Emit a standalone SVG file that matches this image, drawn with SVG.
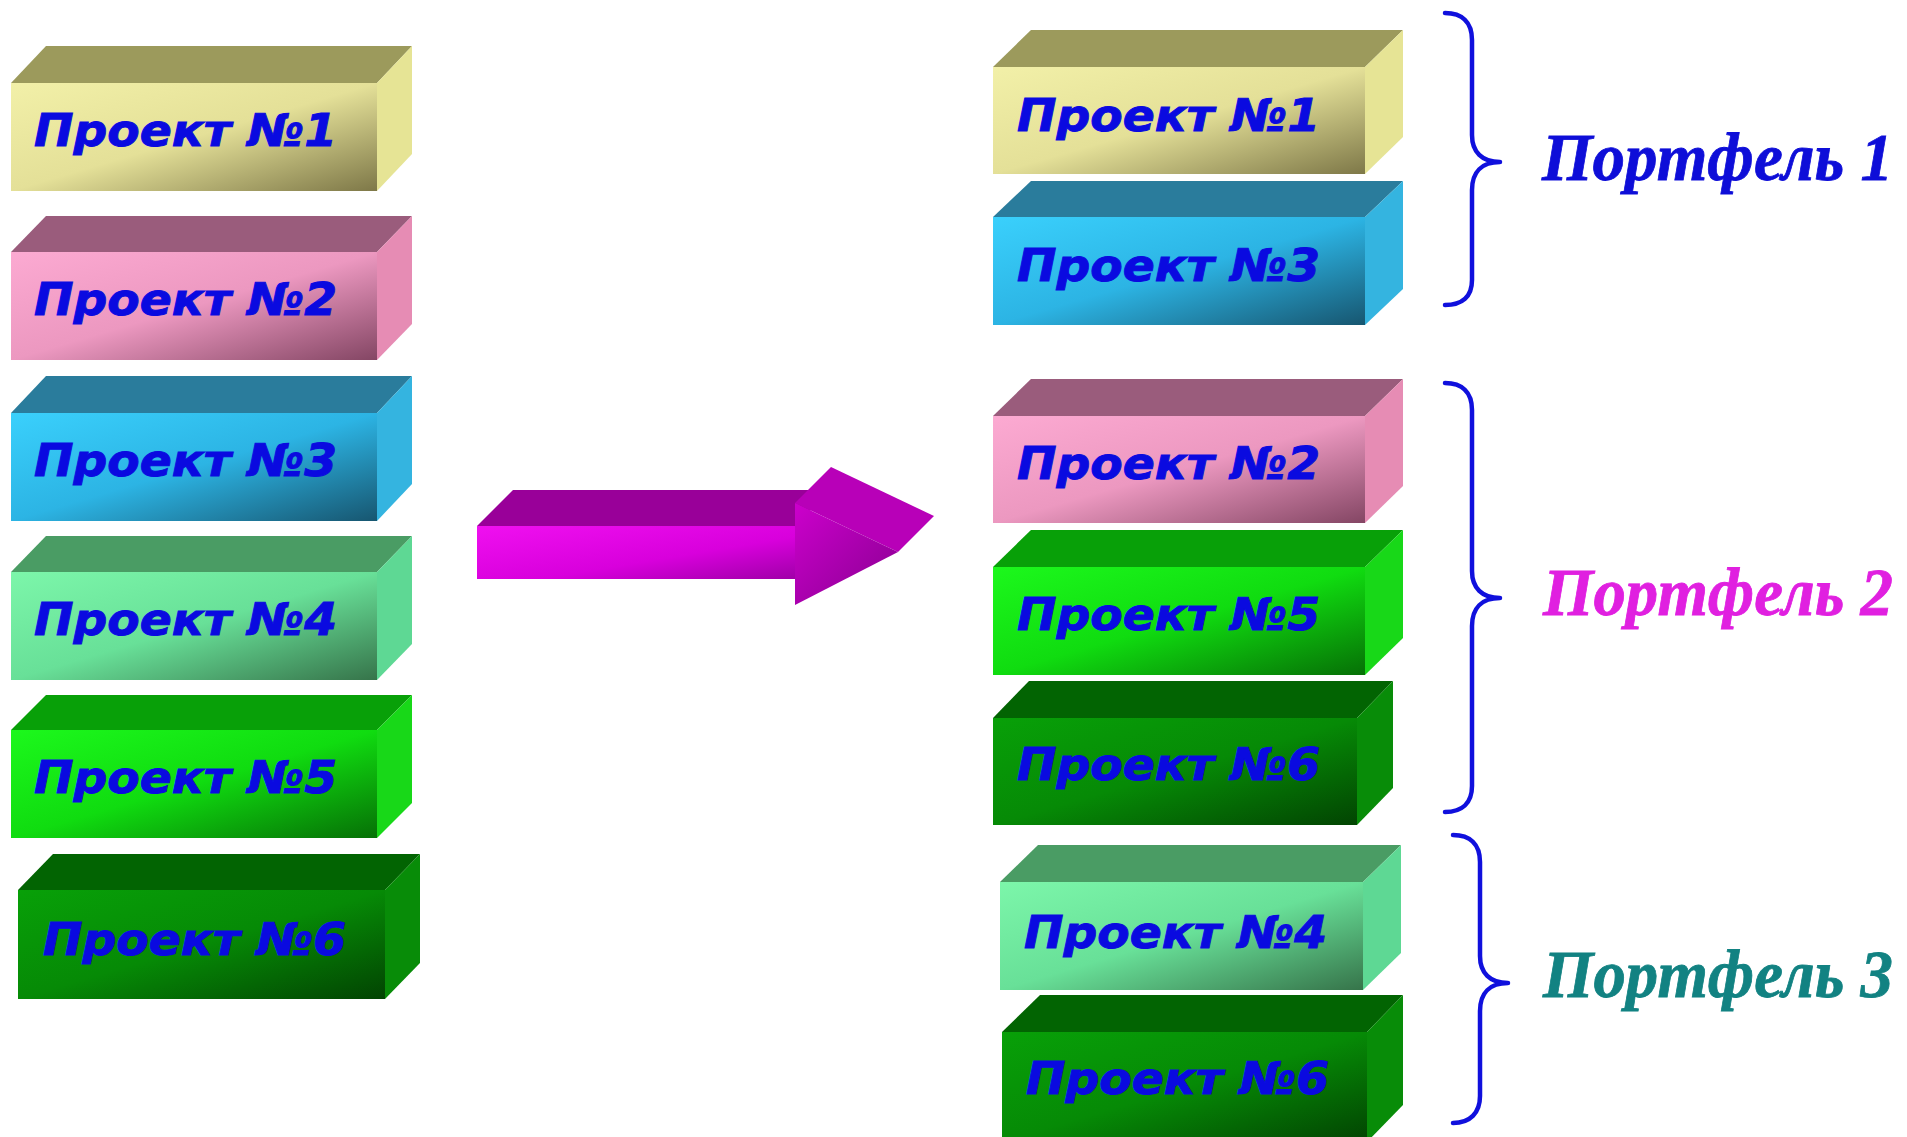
<svg xmlns="http://www.w3.org/2000/svg" width="1907" height="1137" viewBox="0 0 1907 1137">
<defs>
<linearGradient id="g1" x1="0" y1="0" x2="1" y2="1"><stop offset="0" stop-color="#f2f0a8"/><stop offset="0.5" stop-color="#e4e098"/><stop offset="1" stop-color="#7e7848"/></linearGradient>
<linearGradient id="g2" x1="0" y1="0" x2="1" y2="1"><stop offset="0" stop-color="#fcaad2"/><stop offset="0.5" stop-color="#ec98c0"/><stop offset="1" stop-color="#844664"/></linearGradient>
<linearGradient id="g3" x1="0" y1="0" x2="1" y2="1"><stop offset="0" stop-color="#3ad0fc"/><stop offset="0.5" stop-color="#2cb4e4"/><stop offset="1" stop-color="#175670"/></linearGradient>
<linearGradient id="g4" x1="0" y1="0" x2="1" y2="1"><stop offset="0" stop-color="#7cf6aa"/><stop offset="0.5" stop-color="#68e098"/><stop offset="1" stop-color="#36744a"/></linearGradient>
<linearGradient id="g5" x1="0" y1="0" x2="1" y2="1"><stop offset="0" stop-color="#1cf81c"/><stop offset="0.5" stop-color="#10dc10"/><stop offset="1" stop-color="#067006"/></linearGradient>
<linearGradient id="g6" x1="0" y1="0" x2="1" y2="1"><stop offset="0" stop-color="#08a008"/><stop offset="0.5" stop-color="#068a06"/><stop offset="1" stop-color="#024402"/></linearGradient>
<linearGradient id="ga" x1="0" y1="0" x2="1" y2="1"><stop offset="0" stop-color="#f010f0"/><stop offset="0.6" stop-color="#d800dc"/><stop offset="1" stop-color="#a000a8"/></linearGradient>
<linearGradient id="gh" x1="0" y1="0" x2="1" y2="1"><stop offset="0" stop-color="#cc00cc"/><stop offset="1" stop-color="#880090"/></linearGradient>
</defs>
<style>
.t{font-family:"DejaVu Sans","Verdana",sans-serif;font-weight:bold;font-style:italic;font-size:45px;fill:#0a0ae0;stroke:#0a0ae0;stroke-width:1}
.pf{font-family:"Liberation Serif","Times New Roman",serif;font-weight:bold;font-style:italic;font-size:67px;stroke-width:0.8}
.br{fill:none;stroke:#1010dd;stroke-width:4.5;stroke-linecap:round;stroke-linejoin:round}
.t1{fill:#9c9a5c}.r1{fill:#e6e495}
.t2{fill:#9a5c7c}.r2{fill:#e68cb4}
.t3{fill:#2a7c9c}.r3{fill:#34b4e0}
.t4{fill:#4a9c64}.r4{fill:#5ed894}
.t5{fill:#08a008}.r5{fill:#18d818}
.t6{fill:#026402}.r6{fill:#088c08}
</style>
<rect width="1907" height="1137" fill="#ffffff"/>

<!-- Left column -->
<g id="L1">
<polygon class="t1" points="11,83 46,46 412,46 377,83"/>
<polygon class="r1" points="377,83 412,46 412,154 377,191"/>
<rect x="11" y="83" width="366" height="108" fill="url(#g1)"/>
<text class="t" x="34" y="146" textLength="303" lengthAdjust="spacingAndGlyphs">Проект №1</text>
</g>
<g id="L2">
<polygon class="t2" points="11,252 46,216 412,216 377,252"/>
<polygon class="r2" points="377,252 412,216 412,324 377,360"/>
<rect x="11" y="252" width="366" height="108" fill="url(#g2)"/>
<text class="t" x="34" y="315" textLength="303" lengthAdjust="spacingAndGlyphs">Проект №2</text>
</g>
<g id="L3">
<polygon class="t3" points="11,413 46,376 412,376 377,413"/>
<polygon class="r3" points="377,413 412,376 412,484 377,521"/>
<rect x="11" y="413" width="366" height="108" fill="url(#g3)"/>
<text class="t" x="34" y="476" textLength="303" lengthAdjust="spacingAndGlyphs">Проект №3</text>
</g>
<g id="L4">
<polygon class="t4" points="11,572 46,536 412,536 377,572"/>
<polygon class="r4" points="377,572 412,536 412,644 377,680"/>
<rect x="11" y="572" width="366" height="108" fill="url(#g4)"/>
<text class="t" x="34" y="635" textLength="303" lengthAdjust="spacingAndGlyphs">Проект №4</text>
</g>
<g id="L5">
<polygon class="t5" points="11,730 46,695 412,695 377,730"/>
<polygon class="r5" points="377,730 412,695 412,803 377,838"/>
<rect x="11" y="730" width="366" height="108" fill="url(#g5)"/>
<text class="t" x="34" y="793" textLength="303" lengthAdjust="spacingAndGlyphs">Проект №5</text>
</g>
<g id="L6">
<polygon class="t6" points="18,890 53,854 420,854 385,890"/>
<polygon class="r6" points="385,890 420,854 420,963 385,999"/>
<rect x="18" y="890" width="367" height="109" fill="url(#g6)"/>
<text class="t" x="43" y="955" textLength="303" lengthAdjust="spacingAndGlyphs">Проект №6</text>
</g>

<!-- Arrow -->
<g id="connectors">
<g id="arrow">
<polygon fill="#990099" points="477,526 513,490 831,490 795,526"/>
<polygon fill="#b800b8" points="795,503 831,467 934,516 898,552"/>
<rect x="477" y="526" width="318" height="53" fill="url(#ga)"/>
<polygon fill="url(#gh)" points="795,503 898,552 795,605"/>
</g>
</g>

<!-- Right column -->
<g id="R1">
<polygon class="t1" points="993,67 1031,30 1403,30 1365,67"/>
<polygon class="r1" points="1365,67 1403,30 1403,137 1365,174"/>
<rect x="993" y="67" width="372" height="107" fill="url(#g1)"/>
<text class="t" x="1017" y="131" textLength="303" lengthAdjust="spacingAndGlyphs">Проект №1</text>
</g>
<g id="R3">
<polygon class="t3" points="993,217 1031,181 1403,181 1365,217"/>
<polygon class="r3" points="1365,217 1403,181 1403,289 1365,325"/>
<rect x="993" y="217" width="372" height="108" fill="url(#g3)"/>
<text class="t" x="1017" y="281" textLength="303" lengthAdjust="spacingAndGlyphs">Проект №3</text>
</g>
<g id="R2">
<polygon class="t2" points="993,416 1031,379 1403,379 1365,416"/>
<polygon class="r2" points="1365,416 1403,379 1403,486 1365,523"/>
<rect x="993" y="416" width="372" height="107" fill="url(#g2)"/>
<text class="t" x="1017" y="479" textLength="303" lengthAdjust="spacingAndGlyphs">Проект №2</text>
</g>
<g id="R5">
<polygon class="t5" points="993,567 1031,530 1403,530 1365,567"/>
<polygon class="r5" points="1365,567 1403,530 1403,638 1365,675"/>
<rect x="993" y="567" width="372" height="108" fill="url(#g5)"/>
<text class="t" x="1017" y="630" textLength="303" lengthAdjust="spacingAndGlyphs">Проект №5</text>
</g>
<g id="R6">
<polygon class="t6" points="993,718 1029,681 1393,681 1357,718"/>
<polygon class="r6" points="1357,718 1393,681 1393,788 1357,825"/>
<rect x="993" y="718" width="364" height="107" fill="url(#g6)"/>
<text class="t" x="1017" y="780" textLength="303" lengthAdjust="spacingAndGlyphs">Проект №6</text>
</g>
<g id="R4">
<polygon class="t4" points="1000,882 1038,845 1401,845 1363,882"/>
<polygon class="r4" points="1363,882 1401,845 1401,953 1363,990"/>
<rect x="1000" y="882" width="363" height="108" fill="url(#g4)"/>
<text class="t" x="1024" y="948" textLength="303" lengthAdjust="spacingAndGlyphs">Проект №4</text>
</g>
<g id="R6b">
<polygon class="t6" points="1002,1032 1040,995 1403,995 1367,1032"/>
<polygon class="r6" points="1367,1032 1403,995 1403,1105 1367,1142"/>
<rect x="1002" y="1032" width="365" height="110" fill="url(#g6)"/>
<text class="t" x="1026" y="1094" textLength="303" lengthAdjust="spacingAndGlyphs">Проект №6</text>
</g>

<!-- Braces and portfolio labels -->
<g id="P1">
<path class="br" d="M1445,13 C1462,13 1472,22 1472,40 L1472,135 C1472,152 1482,162 1500,162 C1482,162 1472,172 1472,190 L1472,280 C1472,297 1462,305 1445,305"/>
<text class="pf" x="1542" y="180" fill="#0e0ed8" stroke="#0e0ed8" textLength="351" lengthAdjust="spacingAndGlyphs">Портфель 1</text>
</g>
<g id="P2">
<path class="br" d="M1445,383 C1462,383 1472,392 1472,410 L1472,571 C1472,588 1482,598 1500,598 C1482,598 1472,608 1472,626 L1472,786 C1472,803 1462,812 1445,812"/>
<text class="pf" x="1543" y="615" fill="#e020e0" stroke="#e020e0" textLength="350" lengthAdjust="spacingAndGlyphs">Портфель 2</text>
</g>
<g id="P3">
<path class="br" d="M1453,835 C1470,835 1480,844 1480,862 L1480,956 C1480,973 1490,983 1508,983 C1490,983 1480,993 1480,1011 L1480,1096 C1480,1113 1470,1123 1453,1123"/>
<text class="pf" x="1543" y="997" fill="#128282" stroke="#128282" textLength="350" lengthAdjust="spacingAndGlyphs">Портфель 3</text>
</g>
</svg>
